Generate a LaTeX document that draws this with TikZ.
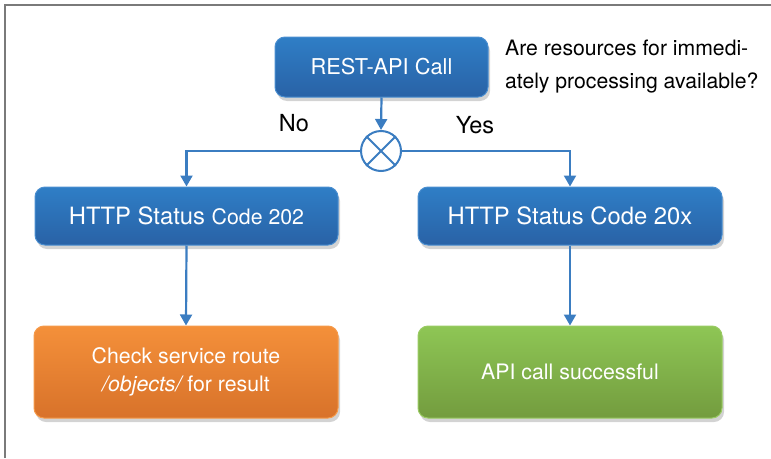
\documentclass[tikz,border=0pt]{standalone}
\usepackage{fontspec}
\setmainfont{TeX Gyre Heros}
\usetikzlibrary{arrows.meta,shadows,positioning}
\definecolor{bluetop}{HTML}{2F7EC6}
\definecolor{bluebot}{HTML}{2962A6}
\definecolor{blueedge}{HTML}{4A8ED0}
\definecolor{orangetop}{HTML}{F4903A}
\definecolor{orangebot}{HTML}{D8722A}
\definecolor{orangeedge}{HTML}{F59A4A}
\definecolor{greentop}{HTML}{8EC655}
\definecolor{greenbot}{HTML}{739C3E}
\definecolor{greenedge}{HTML}{9ACB63}
\definecolor{linkblue}{HTML}{3B7DC1}
\definecolor{framegray}{HTML}{7A7A7A}
\tikzset{
  x=1pt, y=1pt,
  box/.style={rounded corners=10pt, inner sep=0pt, align=center, text=white,
    font=\fontsize{21.3}{28}\selectfont, line width=1pt,
    drop shadow={opacity=0.35, shadow xshift=2pt, shadow yshift=-4pt}},
  bluebox/.style={box, draw=blueedge, top color=bluetop, bottom color=bluebot},
  orangebox/.style={box, draw=orangeedge, top color=orangetop, bottom color=orangebot},
  greenbox/.style={box, draw=greenedge, top color=greentop, bottom color=greenbot},
  link/.style={draw=linkblue, line width=2.2pt, -{Triangle[width=12pt,length=11pt]}},
  lbl/.style={font=\fontsize{23.5}{33}\selectfont, text=black, inner sep=0pt},
}
\begin{document}
\begin{tikzpicture}
\useasboundingbox (0,0) rectangle (771,-458);
\draw[framegray, line width=2pt] (4.5,-458) -- (4.5,-4.5) -- (771,-4.5);

\node[bluebox, minimum width=213pt, minimum height=60pt, font=\fontsize{21.8}{28}\selectfont] (rest) at (381.5,-67) {REST-API Call};
\node[circle, draw=linkblue, fill=white, line width=2pt, minimum size=40pt, inner sep=0pt] (cross) at (381,-151) {};
\draw[linkblue, line width=2pt] (cross.north east) -- (cross.south west) (cross.north west) -- (cross.south east);

\node[bluebox, minimum width=303pt, minimum height=58pt, font=\fontsize{23.8}{28}\selectfont] (h202) at (186.5,-216) {HTTP Status {\fontsize{21.3}{28}\selectfont Code 202}};
\node[bluebox, minimum width=304pt, minimum height=58pt, font=\fontsize{23.8}{28}\selectfont] (h20x) at (570,-216) {HTTP Status Code 20x};

\node[orangebox, minimum width=304pt, minimum height=92pt] (chk) at (186,-372) {Check service route\\\textit{/objects/}\,for result};
\node[greenbox, minimum width=304pt, minimum height=92pt] (ok) at (570,-372) {API call successful};

\node[lbl, anchor=north west, align=left, font=\fontsize{21.2}{33}\selectfont] (q) at (505,-40) {Are resources for immedi-\\ately processing available?};
\node[lbl] (no) at (294,-123) {No};
\node[lbl] (yes) at (475,-125) {Yes};

\draw[link] (rest.south) -- (cross.north);
\draw[link] (cross.west) -| (h202.north);
\draw[link] (cross.east) -| (h20x.north);
\draw[link] (h202.south) -- (chk.north);
\draw[link] (h20x.south) -- (ok.north);
\end{tikzpicture}
\end{document}
